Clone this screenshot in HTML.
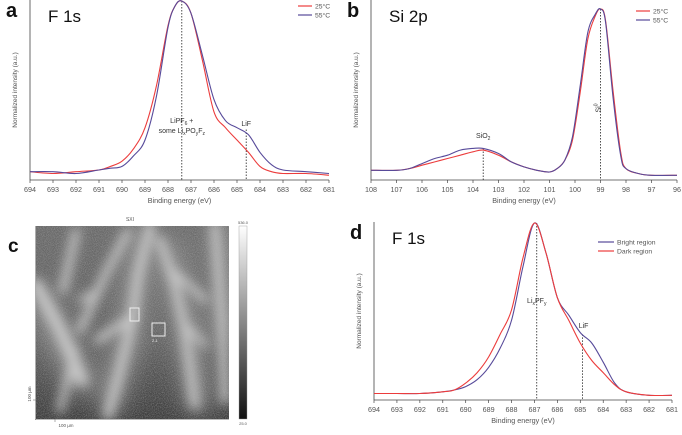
<!DOCTYPE html>
<html><head><meta charset="utf-8">
<style>
html,body{margin:0;padding:0;background:#fff;}
body{width:682px;height:430px;overflow:hidden;font-family:"Liberation Sans",sans-serif;}
svg text{font-family:"Liberation Sans",sans-serif;}
</style></head>
<body>
<svg id="fig" width="682" height="430" viewBox="0 0 682 430" xmlns="http://www.w3.org/2000/svg">
  <defs>
    <filter id="blur6" x="-20%" y="-20%" width="140%" height="140%"><feGaussianBlur stdDeviation="5.5"/></filter>
    <filter id="blur12" x="-30%" y="-30%" width="160%" height="160%"><feGaussianBlur stdDeviation="12"/></filter>
    <filter id="noise" x="0" y="0" width="100%" height="100%">
      <feTurbulence type="fractalNoise" baseFrequency="1.1" numOctaves="2" seed="3" result="t"/>
      <feColorMatrix type="matrix" values="0 0 0 0 0.5  0 0 0 0 0.5  0 0 0 0 0.5  0 0 0 1.6 -0.6"/>
    </filter>
    <linearGradient id="bg" x1="0" y1="0" x2="0" y2="1">
      <stop offset="0" stop-color="#6a6a6a"/>
      <stop offset="0.6" stop-color="#606060"/>
      <stop offset="1" stop-color="#3c3c3c"/>
    </linearGradient>
    <linearGradient id="cbar" x1="0" y1="0" x2="0" y2="1">
      <stop offset="0" stop-color="#fff"/>
      <stop offset="1" stop-color="#111"/>
    </linearGradient>
    <clipPath id="imgclip"><rect x="36" y="226" width="193" height="193"/></clipPath>
  </defs>
  <g id="panelA"></g>
  <g id="panelB"></g>
  <g id="panelD"></g>

  <g>
    <text x="8" y="252" font-size="19" font-weight="bold" fill="#111">c</text>
    <text x="130" y="221" font-size="5" fill="#555" text-anchor="middle">SXI</text>
    <g clip-path="url(#imgclip)">
      <rect x="36" y="226" width="193" height="193" fill="url(#bg)"/>
      <g filter="url(#blur12)" stroke="#8a8a8a" fill="none" stroke-linecap="round">
        <path d="M40 300 L80 380" stroke-width="26"/>
        <path d="M140 240 L130 330 L110 400" stroke-width="24"/>
        <path d="M170 250 L190 340 L198 400" stroke-width="24"/>
        <path d="M220 230 L225 330" stroke-width="20"/>
      </g>
      <g filter="url(#blur6)" stroke="#c8c8c8" fill="none" stroke-linecap="round">
        <path d="M36 285 L60 330 L82 380" stroke-width="13"/>
        <path d="M76 232 L63 290" stroke-width="8"/>
        <path d="M128 232 L105 275 L80 330" stroke-width="8"/>
        <path d="M80 300 L100 290" stroke-width="6"/>
        <path d="M150 226 L138 275 L132 320 L120 370 L108 415" stroke-width="10"/>
        <path d="M98 340 L135 315" stroke-width="8"/>
        <path d="M160 240 L175 285 L185 330 L195 405" stroke-width="9"/>
        <path d="M172 270 L205 300" stroke-width="7"/>
        <path d="M186 325 L205 345" stroke-width="6"/>
        <path d="M215 226 L222 320 L225 400" stroke-width="9"/>
        <path d="M75 350 L60 410" stroke-width="7"/>
      </g>
      <rect x="36" y="226" width="193" height="193" filter="url(#noise)" opacity="0.6"/>
    </g>
    <rect x="152" y="323" width="13" height="13" fill="none" stroke="#eee" stroke-width="1"/>
    <text x="152" y="342" font-size="4" fill="#eee">2-1</text>
    <rect x="130" y="308" width="9" height="13" fill="none" stroke="#eee" stroke-width="1"/>
    <line x1="35.5" y1="226" x2="35.5" y2="420" stroke="#777" stroke-width="0.6"/>
    <line x1="35" y1="419.5" x2="229" y2="419.5" stroke="#777" stroke-width="0.6"/>
    <line x1="33" y1="400" x2="36" y2="400" stroke="#777" stroke-width="0.6"/>
    <line x1="55" y1="419" x2="55" y2="422" stroke="#777" stroke-width="0.6"/>
    <text x="31" y="394" font-size="4.5" fill="#555" text-anchor="middle" transform="rotate(-90 31 394)">100 µm</text>
    <text x="66" y="427" font-size="4.5" fill="#555" text-anchor="middle">100 µm</text>
    <rect x="239" y="226" width="8" height="193" fill="url(#cbar)" stroke="#999" stroke-width="0.4"/>
    <text x="243" y="224" font-size="4" fill="#555" text-anchor="middle">536.0</text>
    <text x="243" y="425" font-size="4" fill="#555" text-anchor="middle">25.0</text>
  </g>
</svg>
<script>
// ---- Panel a: F 1s, 25°C vs 55°C ----
const aEnergy = [694,693,692,691,690.5,690,689.5,689,688.5,688,687.7,687.4,687,686.5,686,685.5,685,684.5,684,683.5,683,682,681];
const aRed25  = [0.03,0.02,0.03,0.04,0.06,0.09,0.16,0.28,0.52,0.86,0.97,1.0,0.93,0.66,0.37,0.28,0.21,0.14,0.06,0.03,0.02,0.02,0.01];
const aBlue55 = [0.03,0.03,0.02,0.04,0.05,0.06,0.12,0.21,0.46,0.85,0.97,1.0,0.93,0.69,0.44,0.32,0.28,0.24,0.14,0.07,0.04,0.03,0.02];
const aTicks = [694,693,692,691,690,689,688,687,686,685,684,683,682,681];
// ---- Panel b: Si 2p ----
const bEnergy = [108,107,106.5,106,105.5,105,104.5,104,103.6,103,102.5,102,101.5,101,100.7,100.4,100.1,99.8,99.5,99.2,99,98.8,98.5,98.2,98,97.5,97,96];
const bRed25  = [0.04,0.04,0.05,0.07,0.09,0.11,0.13,0.15,0.16,0.13,0.09,0.06,0.04,0.03,0.05,0.1,0.22,0.5,0.82,0.96,1.0,0.93,0.5,0.14,0.05,0.02,0.01,0.01];
const bBlue55 = [0.04,0.04,0.05,0.08,0.11,0.13,0.16,0.17,0.17,0.14,0.09,0.06,0.04,0.03,0.05,0.1,0.24,0.54,0.86,0.97,1.0,0.92,0.46,0.12,0.05,0.02,0.01,0.01];
const bTicks = [108,107,106,105,104,103,102,101,100,99,98,97,96];
// ---- Panel d: F 1s, bright vs dark region ----
const dEnergy = [694,693,692,691,690.5,690,689.5,689,688.5,688,687.5,687,686.5,686,685.5,685,684.5,684,683.5,683,682,681];
const dBright = [0.02,0.02,0.02,0.03,0.04,0.06,0.1,0.17,0.28,0.44,0.75,1.0,0.83,0.57,0.47,0.37,0.31,0.2,0.08,0.03,0.01,0.01];
const dDark   = [0.02,0.02,0.02,0.03,0.04,0.08,0.14,0.23,0.36,0.5,0.8,1.0,0.83,0.57,0.44,0.31,0.21,0.14,0.07,0.03,0.01,0.01];
const dTicks = [694,693,692,691,690,689,688,687,686,685,684,683,682,681];

const NS = 'http://www.w3.org/2000/svg';
const RED = '#ec3c3c', BLUE = '#574a9a', GREY = '#555';
function el(tag, attrs, parent, txt){
  const e = document.createElementNS(NS, tag);
  for (const k in attrs) e.setAttribute(k, attrs[k]);
  if (txt !== undefined) e.textContent = txt;
  parent.appendChild(e); return e;
}
function smoothPath(pts){
  let d = 'M' + pts[0][0].toFixed(1) + ' ' + pts[0][1].toFixed(1);
  for (let i = 0; i < pts.length - 1; i++){
    const p0 = pts[i-1] || pts[i], p1 = pts[i], p2 = pts[i+1], p3 = pts[i+2] || p2;
    const c1x = p1[0] + (p2[0]-p0[0])/6, c1y = p1[1] + (p2[1]-p0[1])/6;
    const c2x = p2[0] - (p3[0]-p1[0])/6, c2y = p2[1] - (p3[1]-p1[1])/6;
    d += ' C' + c1x.toFixed(1)+' '+c1y.toFixed(1)+' '+c2x.toFixed(1)+' '+c2y.toFixed(1)+' '+p2[0].toFixed(1)+' '+p2[1].toFixed(1);
  }
  return d;
}
function panel(g, cfg){
  const xs = v => cfg.x0 + (cfg.e0 - v) / (cfg.e0 - cfg.e1) * (cfg.x1 - cfg.x0);
  const ys = v => cfg.yb - v * (cfg.yb - cfg.yt);
  const ya = el('line', {x1:cfg.x0, y1:cfg.top, x2:cfg.x0, y2:cfg.ax, stroke:'#444', 'stroke-width':0.8}, g);
  
  
  const xa = el('line', {x1:cfg.x0, y1:cfg.ax, x2:cfg.x1, y2:cfg.ax, stroke:'#444', 'stroke-width':0.8}, g);
  
  
  cfg.ticks.forEach(t => {
    el('line', {x1:xs(t), y1:cfg.ax, x2:xs(t), y2:cfg.ax+3, stroke:'#444', 'stroke-width':0.7}, g);
    const tl = el('text', {x:xs(t), y:cfg.ax+12, 'font-size':7.2, fill:GREY, 'text-anchor':'middle'}, g, String(t));
    
    
  });
  const xt = el('text', {x:(cfg.x0+cfg.x1)/2, y:cfg.ax+23, 'font-size':7.2, fill:GREY, 'text-anchor':'middle'}, g, 'Binding energy (eV)');
  
  
  const yx = cfg.x0 - 13, yy = (cfg.top + cfg.ax)/2;
  const yt = el('text', {x:yx, y:yy, 'font-size':6.5, fill:GREY, 'text-anchor':'middle', transform:'rotate(-90 '+yx+' '+yy+')'}, g, 'Normalized intensity (a.u.)');
  
  
  const lt = el('text', {x:cfg.x0-24, y:cfg.top+17, 'font-size':20, 'font-weight':'bold', fill:'#111'}, g, cfg.letter);
  
  
  const tt = el('text', {x:cfg.x0+18, y:cfg.top+22, 'font-size':17, fill:'#111'}, g, cfg.title);
  
  
  cfg.marks.forEach(m => {
    const dl = el('line', {x1:xs(m.e), y1:ys(m.from), x2:xs(m.e), y2:cfg.ax, stroke:'#222', 'stroke-width':0.8, 'stroke-dasharray':'1.5,1.5'}, g);
    
    
    m.labels.forEach(L => {
      const t = el('text', {x:xs(m.e)+L.dx, y:L.y, 'font-size':L.fs||7, fill:'#333', 'text-anchor':'middle'}, g);
      
      
      t.innerHTML = L.html;
      if (L.rot) t.setAttribute('transform', 'rotate(-90 '+(xs(m.e)+L.dx)+' '+L.y+')');
    });
  });
  cfg.series.forEach(s => {
    const pts = cfg.energy.map((e,i) => [xs(e), ys(s.vals[i])]);
    const p = el('path', {d:smoothPath(pts), fill:'none', stroke:s.color, 'stroke-width':1.1, 'stroke-linejoin':'round'}, g);
    
    
  });
  cfg.legend.items.forEach((it, i) => {
    const y = cfg.legend.y + i*9;
    const lg = el('g', {}, g);
    
    
    el('line', {x1:cfg.legend.x, y1:y, x2:cfg.legend.x+cfg.legend.len, y2:y, stroke:it.color, 'stroke-width':1.2}, lg);
    el('text', {x:cfg.legend.x+cfg.legend.len+3, y:y+2.5, 'font-size':6.8, fill:GREY}, lg, it.label);
  });
}

panel(document.getElementById('panelA'), {
  x0:30, x1:329, e0:694, e1:681, yb:177, yt:1, ax:180, top:0, letter:'a', title:'F 1s',
  energy:aEnergy, ticks:aTicks,
  series:[{name:'series-25c', vals:aRed25, color:RED},{name:'series-55c', vals:aBlue55, color:BLUE}],
  marks:[
    {e:687.4, from:1.0, labels:[{dx:0,y:123,html:'LiPF<tspan font-size="5" dy="2">6</tspan><tspan dy="-2"> +</tspan>'},{dx:0,y:133,html:'some Li<tspan font-size="5" dy="2">x</tspan><tspan dy="-2">PO</tspan><tspan font-size="5" dy="2">y</tspan><tspan dy="-2">F</tspan><tspan font-size="5" dy="2">z</tspan>'}]},
    {e:684.6, from:0.27, labels:[{dx:0,y:126,html:'LiF'}]}
  ],
  legend:{x:298, y:6, len:14, items:[{label:'25°C', color:RED},{label:'55°C', color:BLUE}]}
});
panel(document.getElementById('panelB'), {
  x0:371, x1:677, e0:108, e1:96, yb:177, yt:9, ax:180, top:0, letter:'b', title:'Si 2p',
  energy:bEnergy, ticks:bTicks,
  series:[{name:'series-25c', vals:bRed25, color:RED},{name:'series-55c', vals:bBlue55, color:BLUE}],
  marks:[
    {e:103.6, from:0.17, labels:[{dx:0,y:138,html:'SiO<tspan font-size="5" dy="2">2</tspan>'}]},
    {e:99.0, from:1.0, labels:[{dx:0,y:108,rot:true,html:'Si<tspan font-size="5" dy="-3">0</tspan>'}]}
  ],
  legend:{x:636, y:11, len:14, items:[{label:'25°C', color:RED},{label:'55°C', color:BLUE}]}
});
panel(document.getElementById('panelD'), {
  x0:374, x1:672, e0:694, e1:681, yb:397, yt:223, ax:400, top:222, letter:'d', title:'F 1s',
  energy:dEnergy, ticks:dTicks,
  series:[{name:'series-bright-region', vals:dBright, color:BLUE},{name:'series-dark-region', vals:dDark, color:RED}],
  marks:[
    {e:686.9, from:1.0, labels:[{dx:0,y:303,html:'Li<tspan font-size="5" dy="2">x</tspan><tspan dy="-2">PF</tspan><tspan font-size="5" dy="2">y</tspan>'}]},
    {e:684.9, from:0.36, labels:[{dx:1,y:328,html:'LiF'}]}
  ],
  legend:{x:598, y:242, len:16, items:[{label:'Bright region', color:BLUE},{label:'Dark region', color:RED}]}
});
</script>
</body></html>
